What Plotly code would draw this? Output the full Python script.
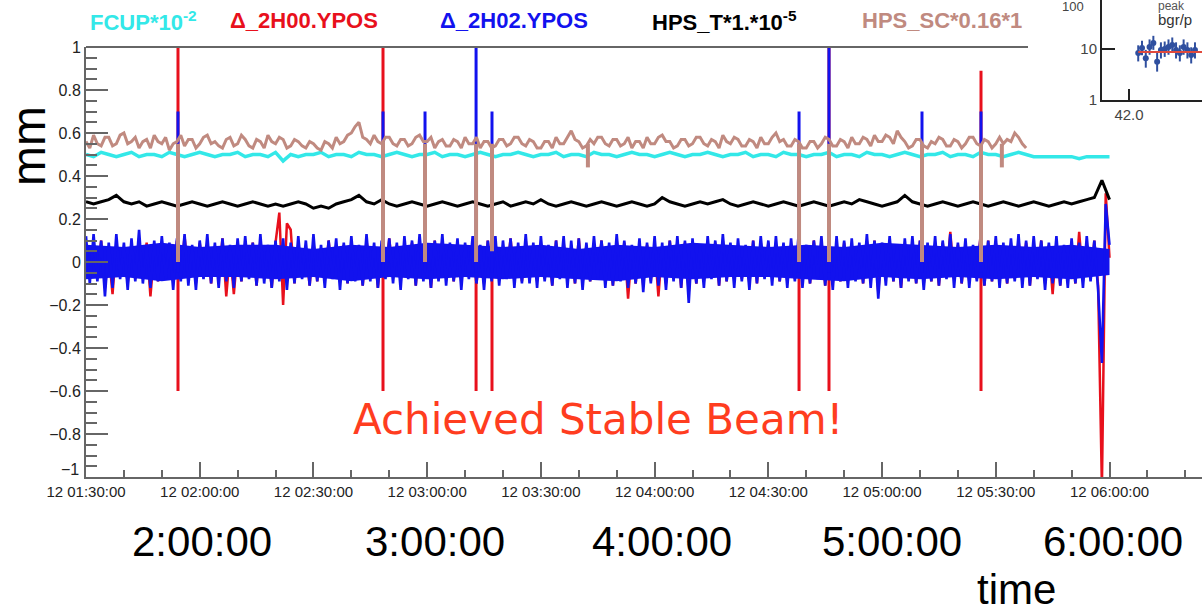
import plotly.graph_objects as go
import pandas as pd

DAY = "2019-03-12 "
T_START = DAY + "01:30:00"
X_END = DAY + "06:24:24"

# ---------------- main chart data ----------------
# 1-minute samples starting 01:30:00
blue_y = [
    0.12, -0.10, 0.13, -0.09, 0.10, -0.16, 0.09, -0.12, 0.13, -0.08,
    0.09, -0.13, 0.11, -0.09, 0.15, -0.10, 0.08, -0.12, 0.10, -0.09,
    0.12, -0.08, 0.09, -0.13, 0.11, -0.09, 0.13, -0.11, 0.08, -0.13,
    0.10, -0.08, 0.13, -0.10, 0.09, -0.12, 0.11, -0.09, 0.08, -0.12,
    0.11, -0.09, 0.12, -0.08, 0.09, -0.11, 0.13, -0.10, 0.08, -0.12,
    0.10, -0.09, 0.11, -0.13, 0.09, -0.10, 0.12, -0.08, 0.10, -0.11,
    0.13, -0.09, 0.08, -0.12, 0.10, -0.08, 0.11, -0.13, 0.09, -0.10,
    0.12, -0.09, 0.08, -0.11, 0.13, -0.09, 0.09, -0.12, 0.10, -0.08,
    0.11, -0.10, 0.09, -0.13, 0.12, -0.08, 0.10, -0.11, 0.13, -0.09,
    0.08, -0.12, 0.10, -0.09, 0.13, -0.11, 0.09, -0.09, 0.11, -0.13,
    0.09, -0.08, 0.12, -0.10, 0.08, -0.13, 0.10, -0.09, 0.12, -0.11,
    0.10, -0.08, 0.11, -0.12, 0.09, -0.10, 0.13, -0.10, 0.09, -0.12,
    0.12, -0.09, 0.08, -0.11, 0.10, -0.08, 0.12, -0.12, 0.10, -0.10,
    0.11, -0.13, 0.09, -0.09, 0.12, -0.08, 0.10, -0.12, 0.09, -0.11,
    0.13, -0.09, 0.10, -0.12, 0.08, -0.10, 0.11, -0.14, 0.09, -0.10,
    0.12, -0.11, 0.09, -0.13, 0.10, -0.09, 0.12, -0.12, 0.10, -0.19,
    0.11, -0.10, 0.08, -0.12, 0.12, -0.08, 0.10, -0.11, 0.13, -0.09,
    0.09, -0.12, 0.11, -0.09, 0.08, -0.13, 0.10, -0.10, 0.12, -0.08,
    0.10, -0.11, 0.12, -0.09, 0.09, -0.12, 0.11, -0.09, 0.13, -0.12,
    0.08, -0.10, 0.10, -0.08, 0.12, -0.11, 0.09, -0.13, 0.12, -0.09,
    0.10, -0.12, 0.11, -0.09, 0.09, -0.10, 0.13, -0.12, 0.10, -0.17,
    0.09, -0.11, 0.12, -0.09, 0.08, -0.12, 0.11, -0.09, 0.12, -0.10,
    0.10, -0.13, 0.09, -0.09, 0.12, -0.11, 0.10, -0.08, 0.13, -0.12,
    0.09, -0.10, 0.11, -0.12, 0.08, -0.09, 0.12, -0.11, 0.10, -0.09,
    0.12, -0.12, 0.09, -0.10, 0.11, -0.09, 0.13, -0.12, 0.10, -0.11,
    0.12, -0.08, 0.10, -0.13, 0.09, -0.10, 0.12, -0.11, 0.08, -0.12,
    0.11, -0.10, 0.09, -0.12, 0.12, -0.09, 0.10, -0.13, -0.47, 0.27,
    0.08,
]

red_y = [
    0.07, -0.06, 0.09, -0.07, 0.10, -0.12, 0.04, -0.15, 0.08, -0.05,
    0.06, -0.10, 0.07, -0.08, 0.11, -0.06, 0.09, -0.16, 0.05, -0.09,
    0.07, -0.06, 0.08, -0.09, 0.10, -0.08, 0.12, -0.07, 0.04, -0.10,
    0.09, -0.05, 0.08, -0.10, 0.06, -0.08, 0.11, -0.16, 0.05, -0.15,
    0.06, -0.09, 0.08, -0.07, 0.09, -0.11, 0.10, -0.06, 0.05, -0.12,
    0.09, 0.23, -0.20, 0.18, 0.15, -0.10, 0.08, -0.06, 0.05, -0.11,
    0.09, -0.09, 0.06, -0.08, 0.10, -0.07, 0.07, -0.09, 0.08, -0.10,
    0.08, -0.08, 0.05, -0.11, 0.10, -0.05, 0.07, -0.12, 0.06, -0.06,
    0.11, -0.06, 0.08, -0.09, 0.08, -0.07, 0.09, -0.11, 0.09, -0.05,
    0.06, -0.12, 0.10, -0.08, 0.10, -0.07, 0.07, -0.09, 0.07, -0.09,
    0.08, -0.07, 0.08, -0.10, 0.05, -0.10, 0.10, -0.08, 0.09, -0.07,
    0.05, -0.06, 0.11, -0.08, 0.07, -0.09, 0.10, -0.06, 0.08, -0.09,
    0.08, -0.08, 0.06, -0.11, 0.10, -0.07, 0.09, -0.08, 0.05, -0.10,
    0.11, -0.10, 0.08, -0.09, 0.08, -0.06, 0.10, -0.09, 0.07, -0.11,
    0.10, -0.08, 0.09, -0.17, 0.06, -0.10, 0.07, -0.11, 0.08, -0.09,
    0.08, -0.16, 0.07, -0.10, 0.10, -0.08, 0.09, -0.12, 0.09, -0.14,
    0.07, -0.10, 0.06, -0.09, 0.08, -0.07, 0.09, -0.11, 0.10, -0.09,
    0.08, -0.08, 0.07, -0.08, 0.05, -0.10, 0.10, -0.10, 0.09, -0.07,
    0.09, -0.07, 0.08, -0.09, 0.07, -0.09, 0.07, -0.08, 0.10, -0.08,
    0.06, -0.10, 0.10, -0.07, 0.09, -0.11, 0.08, -0.10, 0.08, -0.09,
    0.09, -0.08, 0.07, -0.08, 0.07, -0.10, 0.10, -0.09, 0.10, -0.14,
    0.08, -0.07, 0.08, -0.09, 0.06, -0.12, 0.07, -0.08, 0.09, -0.10,
    0.10, -0.10, 0.07, -0.09, 0.08, -0.11, 0.09, -0.07, 0.14, -0.08,
    0.08, -0.10, 0.07, -0.09, 0.06, -0.08, 0.13, -0.11, 0.10, -0.09,
    0.09, -0.08, 0.07, -0.10, 0.07, -0.08, 0.10, -0.09, 0.09, -0.11,
    0.08, -0.07, 0.10, -0.10, 0.08, -0.15, 0.09, -0.11, 0.06, -0.08,
    0.07, -0.10, 0.14, -0.09, 0.08, -0.08, 0.10, -0.11, -1.05, 0.32,
    0.02,
]

# dense core of the blue band (10-minute bins, 01:30 .. 06:00)
blue_core_hi = [0.08, 0.07, 0.09, 0.07, 0.08, 0.08, 0.06, 0.08, 0.07, 0.09,
                0.08, 0.07, 0.08, 0.06, 0.08, 0.07, 0.09, 0.08, 0.07, 0.08,
                0.07, 0.09, 0.08, 0.07, 0.08, 0.07, 0.08, 0.06]
blue_core_lo = [-0.08, -0.07, -0.09, -0.07, -0.07, -0.08, -0.07, -0.09, -0.07, -0.08,
                -0.07, -0.08, -0.07, -0.08, -0.09, -0.07, -0.08, -0.07, -0.07, -0.08,
                -0.09, -0.07, -0.08, -0.07, -0.08, -0.07, -0.08, -0.06]

# 1-minute samples, 01:30 .. 05:38
brown_y = [
    0.56, 0.53, 0.59, 0.55, 0.54, 0.58, 0.58, 0.54, 0.55, 0.59,
    0.60, 0.55, 0.56, 0.58, 0.53, 0.56, 0.57, 0.53, 0.59, 0.56,
    0.55, 0.58, 0.52, 0.55, 0.56, 0.59, 0.54, 0.57, 0.57, 0.53,
    0.55, 0.58, 0.59, 0.55, 0.56, 0.54, 0.53, 0.57, 0.58, 0.54,
    0.55, 0.59, 0.57, 0.54, 0.53, 0.57, 0.56, 0.53, 0.59, 0.56,
    0.55, 0.58, 0.57, 0.53, 0.54, 0.57, 0.56, 0.54, 0.53, 0.56,
    0.55, 0.53, 0.52, 0.56, 0.55, 0.53, 0.58, 0.55, 0.56, 0.59,
    0.60, 0.63, 0.65, 0.58, 0.57, 0.55, 0.59, 0.56, 0.55, 0.58,
    0.58, 0.55, 0.54, 0.57, 0.57, 0.54, 0.55, 0.58, 0.59, 0.56,
    0.56, 0.58, 0.53, 0.56, 0.57, 0.54, 0.54, 0.57, 0.56, 0.53,
    0.58, 0.55, 0.55, 0.58, 0.53, 0.56, 0.56, 0.53, 0.54, 0.57,
    0.57, 0.54, 0.55, 0.58, 0.58, 0.55, 0.54, 0.57, 0.56, 0.53,
    0.53, 0.56, 0.56, 0.53, 0.58, 0.55, 0.55, 0.58, 0.61, 0.57,
    0.56, 0.53, 0.54, 0.57, 0.55, 0.58, 0.58, 0.55, 0.54, 0.57,
    0.57, 0.54, 0.55, 0.58, 0.53, 0.56, 0.56, 0.53, 0.58, 0.55,
    0.55, 0.58, 0.59, 0.56, 0.56, 0.53, 0.54, 0.57, 0.57, 0.54,
    0.55, 0.58, 0.58, 0.55, 0.54, 0.57, 0.56, 0.53, 0.59, 0.56,
    0.55, 0.58, 0.57, 0.54, 0.54, 0.57, 0.56, 0.53, 0.58, 0.55,
    0.55, 0.58, 0.60, 0.56, 0.57, 0.54, 0.54, 0.57, 0.56, 0.53,
    0.53, 0.56, 0.56, 0.53, 0.55, 0.58, 0.57, 0.54, 0.54, 0.57,
    0.56, 0.53, 0.58, 0.55, 0.55, 0.58, 0.57, 0.54, 0.59, 0.56,
    0.56, 0.59, 0.58, 0.55, 0.61, 0.58, 0.56, 0.53, 0.54, 0.57,
    0.57, 0.54, 0.53, 0.56, 0.55, 0.58, 0.57, 0.54, 0.54, 0.57,
    0.56, 0.53, 0.55, 0.58, 0.58, 0.55, 0.54, 0.57, 0.56, 0.53,
    0.55, 0.58, 0.55, 0.57, 0.56, 0.60, 0.58, 0.55, 0.53,
]

# 2-minute samples starting 01:30:00
cyan_y = [
    0.50, 0.49, 0.51, 0.50, 0.49, 0.50, 0.51, 0.49, 0.50, 0.50,
    0.49, 0.51, 0.50, 0.49, 0.50, 0.51, 0.50, 0.49, 0.50, 0.50,
    0.51, 0.49, 0.50, 0.50, 0.49, 0.51, 0.47, 0.50, 0.49, 0.50,
    0.50, 0.51, 0.49, 0.50, 0.50, 0.49, 0.51, 0.50, 0.50, 0.49,
    0.50, 0.51, 0.50, 0.49, 0.50, 0.50, 0.51, 0.49, 0.50, 0.50,
    0.49, 0.50, 0.51, 0.50, 0.49, 0.50, 0.50, 0.51, 0.50, 0.49,
    0.50, 0.50, 0.51, 0.49, 0.50, 0.50, 0.49, 0.51, 0.50, 0.50,
    0.49, 0.50, 0.51, 0.50, 0.50, 0.49, 0.50, 0.51, 0.50, 0.49,
    0.50, 0.50, 0.51, 0.50, 0.49, 0.50, 0.50, 0.51, 0.49, 0.50,
    0.50, 0.49, 0.51, 0.50, 0.50, 0.49, 0.50, 0.50, 0.51, 0.49,
    0.50, 0.50, 0.49, 0.51, 0.50, 0.50, 0.49, 0.50, 0.51, 0.50,
    0.49, 0.50, 0.50, 0.51, 0.49, 0.50, 0.50, 0.49, 0.51, 0.50,
    0.50, 0.49, 0.50, 0.51, 0.50, 0.49, 0.49, 0.49, 0.49, 0.49,
    0.49, 0.48, 0.49, 0.49, 0.49, 0.49,
]

black_y = [
    0.28, 0.27, 0.28, 0.29, 0.31, 0.28, 0.27, 0.28, 0.26, 0.27,
    0.28, 0.27, 0.26, 0.27, 0.28, 0.27, 0.26, 0.27, 0.28, 0.27,
    0.26, 0.27, 0.28, 0.27, 0.26, 0.27, 0.26, 0.27, 0.28, 0.27,
    0.25, 0.26, 0.25, 0.27, 0.28, 0.29, 0.31, 0.28, 0.27, 0.29,
    0.27, 0.26, 0.27, 0.28, 0.27, 0.26, 0.27, 0.28, 0.27, 0.26,
    0.27, 0.28, 0.27, 0.26, 0.27, 0.28, 0.26, 0.27, 0.28, 0.27,
    0.29, 0.27, 0.26, 0.27, 0.28, 0.27, 0.26, 0.27, 0.28, 0.27,
    0.26, 0.27, 0.28, 0.27, 0.26, 0.27, 0.30, 0.28, 0.27, 0.26,
    0.27, 0.28, 0.27, 0.28, 0.29, 0.27, 0.26, 0.27, 0.28, 0.27,
    0.26, 0.27, 0.28, 0.27, 0.26, 0.27, 0.28, 0.27, 0.26, 0.27,
    0.28, 0.27, 0.29, 0.28, 0.27, 0.26, 0.27, 0.28, 0.31, 0.28,
    0.27, 0.26, 0.27, 0.28, 0.27, 0.26, 0.27, 0.28, 0.27, 0.26,
    0.27, 0.28, 0.27, 0.26, 0.27, 0.28, 0.27, 0.26, 0.27, 0.28,
    0.27, 0.28, 0.29, 0.30, 0.38, 0.29,
]

# beam-trip spikes (time, low end, high end)
red_spike_t = ["01:54:16", "02:48:21", "03:12:54", "03:17:06", "04:38:06", "04:46:00", "05:26:06"]
red_spike_lo = [-0.60, -0.60, -0.60, -0.60, -0.60, -0.60, -0.60]
red_spike_hi = [1.00, 1.00, 0.05, 0.05, 0.05, 1.00, 0.89]

blue_spike_t = ["01:54:16", "02:48:21", "02:59:26", "03:12:54", "03:17:06",
                "04:38:06", "04:46:00", "05:10:32", "05:26:06"]
blue_spike_lo = [-0.05, -0.05, -0.05, -0.05, -0.05, -0.05, -0.05, -0.05, -0.05]
blue_spike_hi = [0.70, 0.70, 0.70, 1.00, 0.70, 0.70, 1.00, 0.70, 0.70]

cyan_spike_t = ["01:54:16", "03:17:06", "04:38:06", "05:10:32"]
cyan_spike_lo = [0.35, 0.45, 0.40, 0.35]
cyan_spike_hi = [0.50, 0.50, 0.50, 0.50]

black_spike_t = ["01:54:16", "02:48:21", "02:59:26", "03:12:54", "03:17:06",
                 "04:38:06", "05:10:32"]
black_spike_lo = [0.18, 0.20, 0.15, 0.12, 0.06, 0.22, 0.18]
black_spike_hi = [0.27, 0.27, 0.27, 0.27, 0.27, 0.27, 0.27]

brown_spike_t = ["01:54:16", "02:48:21", "02:59:26", "03:12:54", "03:17:06", "03:42:24",
                 "04:38:06", "04:46:00", "05:10:32", "05:26:06", "05:31:36"]
brown_spike_lo = [0.00, 0.00, 0.00, 0.00, 0.05, 0.44, 0.00, 0.00, 0.00, 0.00, 0.44]
brown_spike_hi = [0.55, 0.56, 0.55, 0.55, 0.55, 0.55, 0.55, 0.55, 0.55, 0.55, 0.55]

y_tick_vals = [-1, -0.8, -0.6, -0.4, -0.2, 0, 0.2, 0.4, 0.6, 0.8, 1]
y_tick_text = ["", "\u22120.8", "\u22120.6", "\u22120.4", "\u22120.2", "0",
               "0.2", "0.4", "0.6", "0.8", "1"]
y_bottom_label = "\u22121"   # ROOT draws it raised above the corner

hour_labels = ["2:00:00", "3:00:00", "4:00:00", "5:00:00", "6:00:00"]
hour_label_t = ["02:00:30", "03:02:00", "04:02:00", "05:02:30", "06:01:00"]

legend_names = ["FCUP*10<sup>-2</sup>", "\u0394_2H00.YPOS", "\u0394_2H02.YPOS",
                "HPS_T*1.*10<sup>-5</sup>", "HPS_SC*0.16*1"]
legend_colors = ["#33e8e8", "#e8101c", "#1212ee", "#000000", "#c08a80"]
legend_x_px = [88, 228, 438, 650, 860]

# ---------------- inset (part of a neighbouring plot) ----------------
inset_x = [42.017, 42.024, 42.031, 42.038, 42.045, 42.052, 42.059, 42.066,
           42.073, 42.080, 42.087, 42.094, 42.101, 42.108, 42.115, 42.122]
inset_y = [8.3, 10.5, 6.6, 10.9, 13.1, 5.6, 9.5, 10.0, 10.9, 12.0, 9.5, 8.3,
           10.9, 9.5, 7.6, 9.5]
inset_err_up = [3.5, 4.0, 3.0, 4.5, 5.0, 2.8, 4.0, 4.0, 4.5, 4.8, 4.0, 3.5,
                4.5, 4.0, 3.2, 4.0]
inset_err_dn = [2.6, 3.0, 2.3, 3.2, 3.5, 2.0, 3.0, 3.0, 3.2, 3.4, 3.0, 2.6,
                3.2, 3.0, 2.4, 3.0]
inset_fit_x = [42.017, 42.14]
inset_fit_y = [8.7, 8.7]

# ---------------- build ----------------
t1 = pd.date_range(T_START, periods=len(blue_y), freq="1min")
t1r = pd.date_range(T_START, periods=len(red_y), freq="1min")
t1b = pd.date_range(T_START, periods=len(brown_y), freq="1min")
t10 = pd.date_range(T_START, periods=len(blue_core_hi), freq="10min")
t2c = pd.date_range(T_START, periods=len(cyan_y), freq="2min")
t2k = pd.date_range(T_START, periods=len(black_y), freq="2min")


def spikes(times, lo, hi):
    xs, ys = [], []
    for t, a, b in zip(times, lo, hi):
        xs += [DAY + t, DAY + t, None]
        ys += [a, b, None]
    return xs, ys


W, H = 1202, 612
L_PX, R_PX, T_PX, B_PX = 86, 1202, 47, 477


def px(x):
    return x / W


def py(y):
    return 1 - y / H


C_CYAN, C_RED, C_BLUE, C_BLACK, C_BROWN = legend_colors

fig = go.Figure()

fig.add_trace(go.Scatter(x=t1r, y=red_y, mode="lines",
                         line=dict(color=C_RED, width=2.5, simplify=False)))
sx, sy = spikes(red_spike_t, red_spike_lo, red_spike_hi)
fig.add_trace(go.Scatter(x=sx, y=sy, mode="lines", line=dict(color=C_RED, width=3)))

core_x = list(t10) + list(t10[::-1])
core_y = blue_core_hi + blue_core_lo[::-1]
fig.add_trace(go.Scatter(x=core_x, y=core_y, mode="lines", fill="toself",
                         fillcolor=C_BLUE, line=dict(color=C_BLUE, width=0)))
fig.add_trace(go.Scatter(x=t1, y=blue_y, mode="lines",
                         line=dict(color=C_BLUE, width=2.6, simplify=False)))
sx, sy = spikes(blue_spike_t, blue_spike_lo, blue_spike_hi)
fig.add_trace(go.Scatter(x=sx, y=sy, mode="lines", line=dict(color=C_BLUE, width=3)))

fig.add_trace(go.Scatter(x=t2c, y=cyan_y, mode="lines",
                         line=dict(color=C_CYAN, width=3.5, simplify=False)))
sx, sy = spikes(cyan_spike_t, cyan_spike_lo, cyan_spike_hi)
fig.add_trace(go.Scatter(x=sx, y=sy, mode="lines", line=dict(color=C_CYAN, width=2)))

fig.add_trace(go.Scatter(x=t2k, y=black_y, mode="lines",
                         line=dict(color=C_BLACK, width=3, simplify=False)))
sx, sy = spikes(black_spike_t, black_spike_lo, black_spike_hi)
fig.add_trace(go.Scatter(x=sx, y=sy, mode="lines", line=dict(color=C_BLACK, width=2)))

fig.add_trace(go.Scatter(x=t1b, y=brown_y, mode="lines",
                         line=dict(color=C_BROWN, width=3, simplify=False)))
sx, sy = spikes(brown_spike_t, brown_spike_lo, brown_spike_hi)
fig.add_trace(go.Scatter(x=sx, y=sy, mode="lines", line=dict(color=C_BROWN, width=4)))

# inset traces
fig.add_trace(go.Scatter(
    x=inset_x, y=inset_y, mode="markers", xaxis="x2", yaxis="y2",
    marker=dict(color="#2f4f9f", size=6),
    error_y=dict(type="data", symmetric=False, array=inset_err_up, arrayminus=inset_err_dn,
                 color="#2f4f9f", thickness=2, width=0)))
fig.add_trace(go.Scatter(x=inset_fit_x, y=inset_fit_y, mode="lines", xaxis="x2", yaxis="y2",
                         line=dict(color="#e04a3c", width=2)))

AX_COL = "#666666"
FONT_FAM = "Liberation Sans, Arial, sans-serif"

fig.update_layout(
    width=W, height=H, margin=dict(l=0, r=0, t=0, b=0),
    paper_bgcolor="white", plot_bgcolor="white", showlegend=False,
    xaxis=dict(
        domain=[px(L_PX), px(R_PX)], range=[T_START, X_END], type="date",
        tickmode="linear", tick0=T_START, dtick=1800000, tickformat="%d %H:%M:%S",
        ticks="inside", ticklen=15, tickwidth=1.5, tickcolor=AX_COL,
        minor=dict(dtick=600000, tick0=T_START, ticks="inside", ticklen=7, tickwidth=1.5,
                   tickcolor=AX_COL, showgrid=False),
        showline=True, linecolor=AX_COL, linewidth=2, showgrid=False, zeroline=False,
        tickfont=dict(family=FONT_FAM, size=15, color="#222"), automargin=False, anchor="y",
    ),
    yaxis=dict(
        domain=[py(B_PX), py(T_PX)], range=[-1, 1],
        tickmode="array", tickvals=y_tick_vals, ticktext=y_tick_text,
        ticks="inside", ticklen=22, tickwidth=1.5, tickcolor=AX_COL,
        minor=dict(dtick=0.05, tick0=0, ticks="inside", ticklen=11, tickwidth=1.5,
                   tickcolor=AX_COL, showgrid=False),
        showline=True, linecolor=AX_COL, linewidth=2, showgrid=False, zeroline=False,
        tickfont=dict(family=FONT_FAM, size=16, color="#222"), automargin=False, anchor="x",
    ),
    xaxis2=dict(
        domain=[px(1102), 1.0], range=[41.95, 42.135], anchor="y2",
        tickmode="array", tickvals=[42.0], ticktext=["42.0"],
        ticks="inside", ticklen=11, tickwidth=2, tickcolor="#222",
        showline=True, linecolor="#222", linewidth=2, showgrid=False, zeroline=False,
        tickfont=dict(family=FONT_FAM, size=15, color="#444"), automargin=False,
    ),
    yaxis2=dict(
        domain=[py(100), 1.0], range=[0, 1.96], type="log", anchor="x2",
        tickmode="array", tickvals=[1, 10], ticktext=["1", "10"],
        ticks="inside", ticklen=13, tickwidth=2, tickcolor="#222",
        showline=True, linecolor="#222", linewidth=2, showgrid=False, zeroline=False,
        tickfont=dict(family=FONT_FAM, size=15, color="#444"), automargin=False,
    ),
    shapes=[
        dict(type="line", xref="paper", yref="paper", x0=px(L_PX), x1=px(1028),
             y0=py(T_PX), y1=py(T_PX), line=dict(color=AX_COL, width=2)),
    ],
)

ann = []
for name, col, xl in zip(legend_names, legend_colors, legend_x_px):
    ann.append(dict(xref="paper", yref="paper", x=px(xl), y=py(21), xanchor="left",
                    yanchor="middle", showarrow=False, text="<b>" + name + "</b>",
                    font=dict(family="Liberation Sans Narrow, Liberation Sans, Arial", size=22,
                              color=col)))
for lab, t in zip(hour_labels, hour_label_t):
    ann.append(dict(xref="x", yref="paper", x=DAY + t, y=py(541), xanchor="center",
                    yanchor="middle", showarrow=False, text=lab,
                    font=dict(family=FONT_FAM, size=42, color="black")))
ann += [
    dict(xref="paper", yref="paper", x=px(81), y=py(469), xanchor="right", yanchor="middle",
         showarrow=False, text=y_bottom_label,
         font=dict(family=FONT_FAM, size=16, color="#222")),
    dict(xref="paper", yref="paper", x=px(1016), y=py(589), xanchor="center", yanchor="middle",
         showarrow=False, text="time",
         font=dict(family=FONT_FAM, size=42, color="black")),
    dict(xref="paper", yref="paper", x=px(28), y=py(146), xanchor="center", yanchor="middle",
         showarrow=False, text="mm", textangle=-90,
         font=dict(family=FONT_FAM, size=48, color="black")),
    dict(xref="paper", yref="paper", x=px(598), y=py(419), xanchor="center", yanchor="middle",
         showarrow=False, text="Achieved Stable Beam!",
         font=dict(family="DejaVu Sans, sans-serif", size=42, color="#ff3d1f")),
    dict(xref="paper", yref="paper", x=px(1156), y=py(19), xanchor="left", yanchor="middle",
         showarrow=False, text="bgr/p",
         font=dict(family=FONT_FAM, size=15, color="#333")),
    dict(xref="paper", yref="paper", x=px(1156), y=py(6), xanchor="left", yanchor="middle",
         showarrow=False, text="peak",
         font=dict(family=FONT_FAM, size=12, color="#555")),
    dict(xref="paper", yref="paper", x=px(1086), y=py(7), xanchor="right", yanchor="middle",
         showarrow=False, text="100",
         font=dict(family=FONT_FAM, size=13, color="#444")),
]
fig.update_layout(annotations=ann)

fig.write_html("out.html")
